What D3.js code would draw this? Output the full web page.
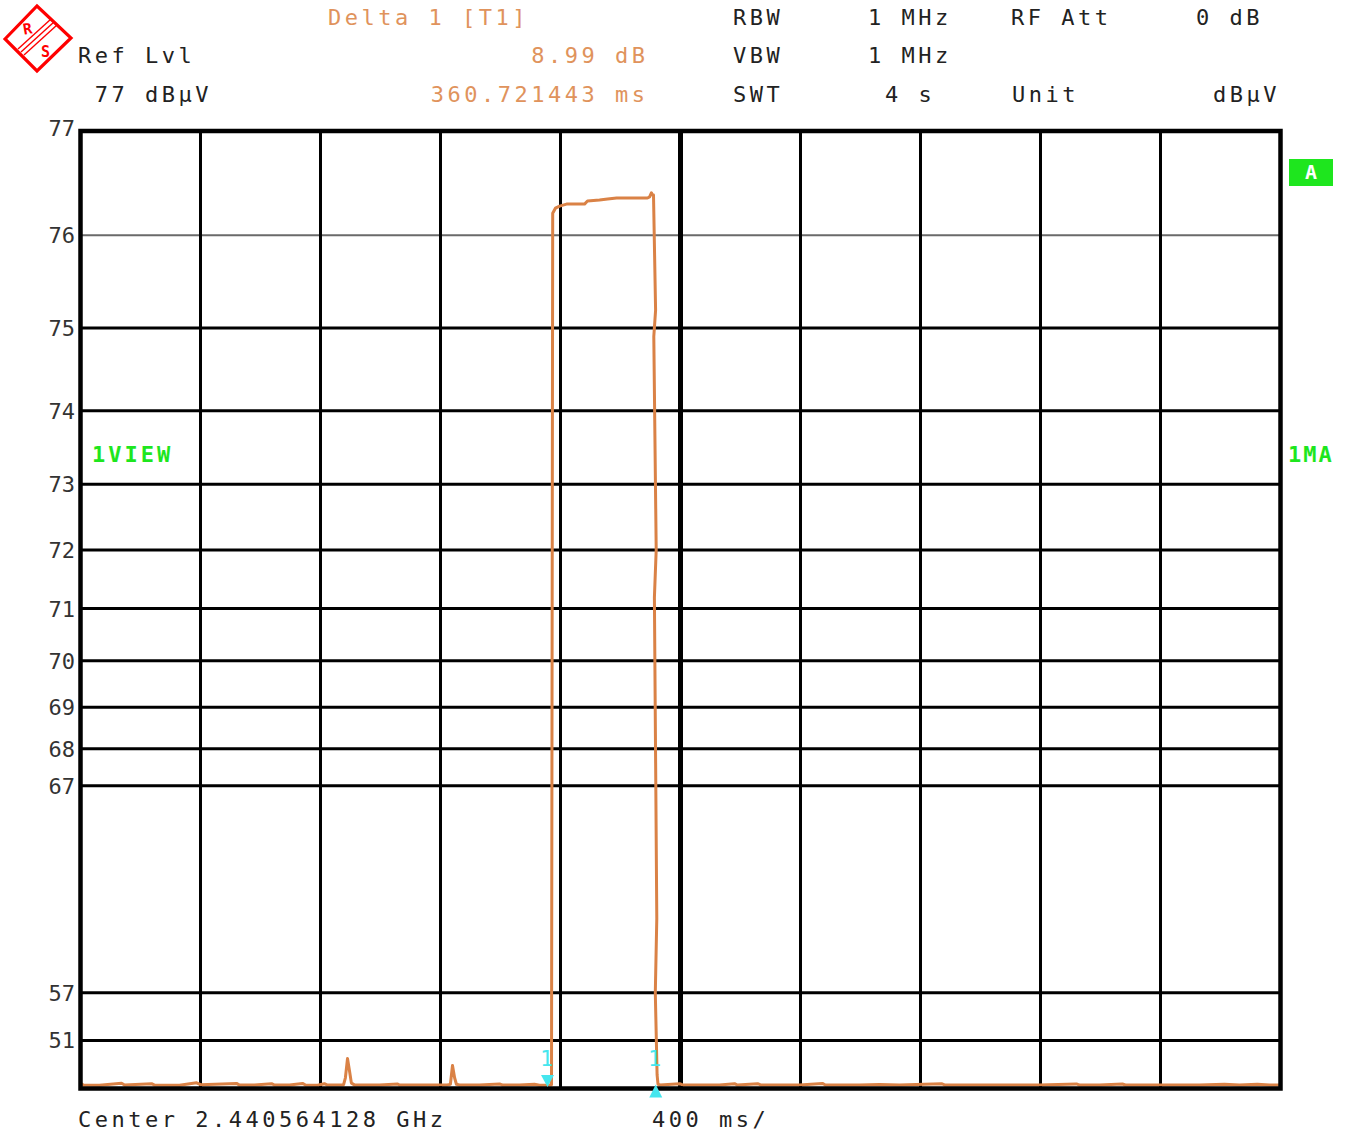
<!DOCTYPE html>
<html>
<head>
<meta charset="utf-8">
<script src="https://cdn.jsdelivr.net/npm/d3@7/dist/d3.min.js"></script>
<style>
  html, body { margin: 0; padding: 0; background: #fff; }
  svg { display: block; }
  text { font-family: "DejaVu Sans Mono", "Liberation Mono", monospace; }
</style>
</head>
<body>
<svg id="chart" width="1353" height="1135"></svg>
<script>
// Zero-span sweep: 4 s, 400 ms/div, level axis linear in voltage (ref 77 dBµV)
const refLevelDb = 77;
const sweepMs = 4000;
const levelTicks = [77, 76, 75, 74, 73, 72, 71, 70, 69, 68, 67, 57, 51];
const timeDivisions = d3.range(0, 4001, 400);

// Trace 1 (max hold): time in ms, level in dBµV.
// Around the falling edge several readings share neighbouring display columns.
const traceTimeMs = [
  0, 10, 63, 137, 147, 237, 247, 330, 387, 400, 520, 530, 580, 637, 647, 697, 740, 750,
  790, 813, 823, 863, 877, 883, 890, 897, 903, 913, 997, 1057, 1063, 1130, 1180, 1223,
  1233, 1240, 1247, 1253, 1263, 1330, 1397, 1407, 1463, 1513, 1530, 1557, 1570,
  1574, 1583, 1597, 1620, 1680, 1690, 1730, 1757, 1787, 1863, 1890, 1897, 1903, 1907,
  1910, 1917, 1911, 1919, 1913, 1921, 1916, 1922, 1925, 1932, 1997, 2007, 2063, 2130, 2180, 2190, 2257, 2267,
  2330, 2397, 2473, 2483, 2597, 2663, 2730, 2870, 2880, 2997, 3097, 3197, 3320, 3330,
  3397, 3473, 3483, 3597, 3730, 3813, 3863, 3923, 3963, 4000
];
const traceLevelDb = [
  31.5, 28.3, 27.5, 31.8, 28.3, 31.0, 28.0, 27.8, 32.5, 29.0, 31.5, 28.0, 28.5, 31.0, 28.2, 28.5, 31.5, 28.2,
  27.5, 31.0, 28.0, 28.5, 29.0, 38.0, 46.9, 42.0, 32.0, 28.5, 28.3, 30.5, 28.0, 28.5, 28.0, 28.5,
  30.0, 44.6, 38.0, 30.0, 28.2, 28.5, 30.5, 28.0, 28.5, 30.0, 27.5, 28.3, 29.0,
  76.22, 76.27, 76.29, 76.31, 76.31, 76.34, 76.35, 76.36, 76.37, 76.37, 76.37, 76.38, 76.42, 76.40,
  76.40, 75.2, 74.9, 72.0, 71.2, 62.0, 57.0, 40.0, 30.0, 28.3, 31.0, 28.3, 28.5, 28.2, 31.0, 28.0, 31.0, 28.3,
  28.0, 28.5, 31.5, 28.2, 28.5, 29.5, 28.0, 31.0, 28.3, 28.0, 28.5, 28.2, 30.5, 28.0,
  28.5, 30.5, 28.2, 28.0, 28.5, 30.0, 28.0, 30.0, 28.3, 28.5
];

// Marker 1 and delta marker 1
const marker1Ms = 1556.7;
const deltaMs = 360.721443;
const marker1LevelDb = 28.3;

// Header readouts
const headerLeft = [["Ref Lvl", 78, 63], [" 77 dBµV", 78, 102]];
const headerMarker = [["Delta 1 [T1]", 328, 25, "start"], ["8.99 dB", 645, 63, "end"], ["360.721443 ms", 645, 102, "end"]];
const headerSettings = [
  ["RBW", 733, 25], ["1 MHz", 868, 25], ["RF Att", 1011, 25], ["0 dB", 1196, 25],
  ["VBW", 733, 63], ["1 MHz", 868, 63],
  ["SWT", 733, 102], ["4 s", 885, 102], ["Unit", 1012, 102], ["dBµV", 1213, 102]
];
const footer = [["Center 2.440564128 GHz", 78, 1127], ["400 ms/", 652, 1127]];

const svg = d3.select("#chart");
const plot = { left: 80.5, right: 1280.5, top: 131, bottom: 1088.5 };

const x = d3.scaleLinear().domain([0, sweepMs]).range([plot.left, plot.right]);
// Voltage-linear level axis: convert dBµV to µV before scaling
const toMicroVolt = db => Math.pow(10, db / 20);
const yv = d3.scaleLinear().domain([0, toMicroVolt(refLevelDb)]).range([plot.bottom, plot.top]);
const y = db => yv(toMicroVolt(db));

const ink = "#000";
const traceColor = "#DA8246";
const markerColor = "#45E6EE";
const green = "#1EE61E";
const letterGap = 3.5;

// Horizontal grid lines
svg.append("g").selectAll("line")
  .data(levelTicks.filter(d => d !== refLevelDb))
  .join("line")
  .attr("x1", plot.left).attr("x2", plot.right)
  .attr("y1", d => y(d)).attr("y2", d => y(d))
  .attr("stroke", d => d === 76 ? "#6a6a6a" : ink)
  .attr("stroke-width", d => d === 76 ? 2 : 3);

// Vertical grid lines (centre division heavier)
svg.append("g").selectAll("line")
  .data(timeDivisions.filter(d => d > 0 && d < sweepMs))
  .join("line")
  .attr("x1", d => x(d)).attr("x2", d => x(d))
  .attr("y1", plot.top).attr("y2", plot.bottom)
  .attr("stroke", ink)
  .attr("stroke-width", d => d === sweepMs / 2 ? 5 : 3);

// Level tick labels
svg.append("g").selectAll("text")
  .data(levelTicks)
  .join("text")
  .attr("x", 75)
  .attr("y", d => d === refLevelDb ? y(d) - 3 : y(d))
  .attr("dy", "0.36em")
  .attr("text-anchor", "end")
  .attr("font-size", 22)
  .attr("fill", "#333")
  .text(d => d);

// Trace
const tracePts = traceTimeMs.map((t, i) => [t, traceLevelDb[i]]);
const line = d3.line().x(d => x(d[0])).y(d => y(d[1]));
svg.append("path")
  .datum(tracePts)
  .attr("d", line)
  .attr("fill", "none")
  .attr("stroke", traceColor)
  .attr("stroke-width", 3)
  .attr("stroke-linejoin", "round");

// Frame
svg.append("rect")
  .attr("x", plot.left).attr("y", plot.top)
  .attr("width", plot.right - plot.left).attr("height", plot.bottom - plot.top)
  .attr("fill", "none").attr("stroke", ink).attr("stroke-width", 4.5);

// Markers
const m1x = x(marker1Ms);
const m2x = x(marker1Ms + deltaMs);
const m1y = y(marker1LevelDb) + 2;
svg.append("path")
  .attr("d", `M${m1x - 6.5},${m1y - 12}L${m1x + 6.5},${m1y - 12}L${m1x},${m1y}Z`)
  .attr("fill", markerColor);
svg.append("path")
  .attr("d", `M${m2x - 6.5},${plot.bottom + 9}L${m2x + 6.5},${plot.bottom + 9}L${m2x},${plot.bottom - 4}Z`)
  .attr("fill", markerColor);
svg.append("g").selectAll("text")
  .data([m1x, m2x])
  .join("text")
  .attr("x", d => d - 1).attr("y", 1066)
  .attr("text-anchor", "middle")
  .attr("font-size", 22)
  .attr("fill", markerColor)
  .text("1");

// Header and footer text
const txt = (g, rows, color) => g.selectAll(null)
  .data(rows).join("text")
  .attr("x", d => d[3] === "end" ? d[1] + letterGap : d[1])
  .attr("y", d => d[2])
  .attr("text-anchor", d => d[3] || "start")
  .attr("font-size", 22)
  .attr("letter-spacing", letterGap)
  .attr("fill", color)
  .attr("xml:space", "preserve")
  .style("white-space", "pre")
  .text(d => d[0]);

const hdr = svg.append("g");
txt(hdr, headerLeft, "#222");
txt(hdr, headerMarker, "#E0935C");
txt(hdr, headerSettings, "#222");
txt(hdr, footer, "#222");

// Trace status labels
svg.append("text")
  .attr("x", 92).attr("y", 462)
  .attr("font-size", 22).attr("font-weight", "bold")
  .attr("letter-spacing", 3)
  .attr("fill", green)
  .text("1VIEW");
svg.append("text")
  .attr("x", 1288).attr("y", 462)
  .attr("font-size", 22).attr("font-weight", "bold")
  .attr("letter-spacing", 2)
  .attr("fill", green)
  .text("1MA");
svg.append("rect")
  .attr("x", 1289).attr("y", 159).attr("width", 44).attr("height", 27)
  .attr("fill", green);
svg.append("text")
  .attr("x", 1311).attr("y", 172).attr("dy", "0.36em")
  .attr("text-anchor", "middle")
  .attr("font-size", 20).attr("font-weight", "bold")
  .attr("fill", "#fff")
  .text("A");

// Manufacturer logo: red diamond with stripes
const logo = svg.append("g").attr("stroke", "#f00").attr("fill", "none");
logo.append("path")
  .attr("d", "M5,39L37,6L71,38L37,71Z")
  .attr("fill", "#fff").attr("stroke-width", 3.2);
[-3, 0, 3].forEach(o => {
  logo.append("line")
    .attr("x1", 21 + o).attr("y1", 52 + o)
    .attr("x2", 54 + o).attr("y2", 22 + o)
    .attr("stroke-width", 1.4);
});
svg.append("text").attr("x", 23).attr("y", 34)
  .attr("font-size", 15).attr("font-weight", "bold").attr("fill", "#f00")
  .attr("transform", "rotate(-10,28,28)")
  .text("R");
svg.append("text").attr("x", 41).attr("y", 57)
  .attr("font-size", 15).attr("font-weight", "bold").attr("fill", "#f00")
  .text("S");
</script>
</body>
</html>
